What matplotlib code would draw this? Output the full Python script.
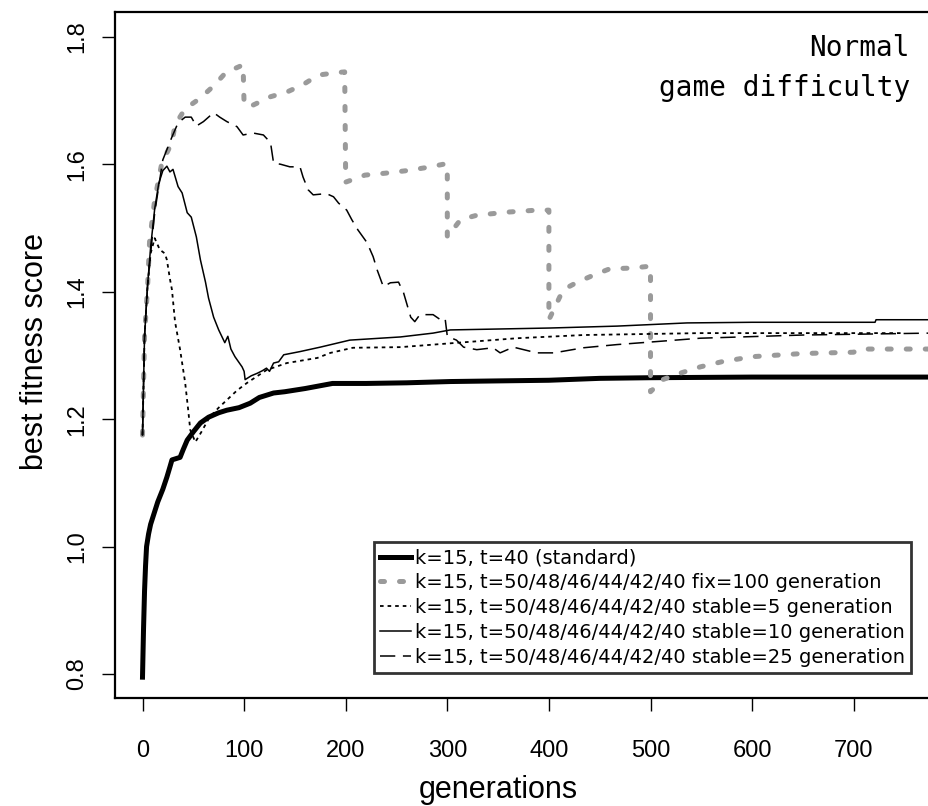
import matplotlib
matplotlib.use("Agg")
import matplotlib.pyplot as plt

# k=15, t=40 (standard)
gens_std = [0, 1, 2, 3, 4, 6, 8, 10, 12, 15, 17, 20, 24, 27, 29, 33, 37, 40, 44, 50,
            57, 65, 75, 83, 95, 106, 115, 129, 140, 160, 187, 220, 260, 303, 350,
            400, 450, 500, 600, 700, 775]
vals_std = [0.795, 0.87, 0.93, 0.97, 1.0, 1.02, 1.035, 1.045, 1.055, 1.07, 1.078, 1.09,
            1.109, 1.125, 1.136, 1.138, 1.14, 1.152, 1.167, 1.18, 1.194, 1.203, 1.21,
            1.214, 1.218, 1.225, 1.234, 1.241, 1.243, 1.248, 1.256, 1.256, 1.257,
            1.259, 1.26, 1.261, 1.264, 1.265, 1.266, 1.266, 1.266]

# fix=100 generation
gens_fix = [0, 2, 5, 7, 12, 19, 29, 32, 42, 57, 70, 82, 99, 100, 109, 126, 143, 158,
            173, 192, 199, 200, 219, 239, 260, 280, 296, 300, 300, 313, 329, 360, 388,
            400, 400, 406, 414, 428, 444, 460, 480, 500, 500, 512, 529, 549, 570, 600,
            650, 700, 705, 775]
vals_fix = [1.175, 1.33, 1.408, 1.48, 1.544, 1.602, 1.634, 1.662, 1.687, 1.704, 1.723,
            1.744, 1.756, 1.693, 1.693, 1.706, 1.714, 1.725, 1.74, 1.744, 1.745, 1.572,
            1.583, 1.586, 1.59, 1.595, 1.60, 1.60, 1.486, 1.513, 1.52, 1.525, 1.528,
            1.528, 1.356, 1.376, 1.403, 1.415, 1.426, 1.436, 1.437, 1.44, 1.243, 1.262,
            1.272, 1.282, 1.29, 1.298, 1.303, 1.305, 1.31, 1.31]

# stable=5 generation
gens_s5 = [0, 2, 5, 8, 12, 17, 22, 24, 27, 29, 32, 37, 42, 45, 47, 52, 58, 66, 75, 83,
           93, 103, 122, 142, 172, 185, 207, 254, 303, 369, 434, 549, 650, 750]
vals_s5 = [1.175, 1.33, 1.41, 1.46, 1.484, 1.466, 1.46, 1.45, 1.42, 1.403, 1.353, 1.309,
           1.257, 1.214, 1.183, 1.164, 1.18, 1.203, 1.218, 1.23, 1.245, 1.257, 1.277,
           1.288, 1.296, 1.304, 1.312, 1.313, 1.319, 1.327, 1.332, 1.335, 1.335, 1.335]

# stable=10 generation
gens_s10 = [0, 2, 5, 8, 12, 16, 20, 24, 27, 30, 35, 39, 44, 48, 53, 57, 62, 65, 70, 75,
            81, 84, 87, 91, 98, 100, 101, 107, 113, 118, 122, 125, 129, 134, 139, 155,
            175, 204, 254, 286, 303, 401, 467, 536, 600, 721, 722, 775]
vals_s10 = [1.175, 1.33, 1.41, 1.47, 1.53, 1.57, 1.59, 1.597, 1.588, 1.592, 1.565, 1.555,
            1.524, 1.517, 1.486, 1.45, 1.415, 1.39, 1.36, 1.34, 1.32, 1.33, 1.31, 1.298,
            1.282, 1.275, 1.262, 1.268, 1.272, 1.276, 1.28, 1.275, 1.288, 1.29, 1.301,
            1.306, 1.313, 1.324, 1.329, 1.335, 1.34, 1.343, 1.346, 1.351, 1.352, 1.352,
            1.356, 1.356]

# stable=25 generation
gens_s25 = [0, 2, 5, 8, 12, 20, 29, 35, 42, 48, 53, 60, 70, 76, 83, 93, 99, 109, 119,
            126, 129, 136, 145, 155, 158, 163, 168, 181, 188, 193, 201, 206, 212, 221,
            227, 231, 237, 244, 252, 257, 264, 268, 273, 286, 296, 298, 300, 309, 316,
            329, 345, 352, 365, 388, 405, 434, 467, 500, 549, 650, 775]
vals_s25 = [1.175, 1.33, 1.41, 1.46, 1.524, 1.607, 1.643, 1.665, 1.674, 1.674, 1.66,
            1.667, 1.681, 1.674, 1.667, 1.659, 1.646, 1.649, 1.646, 1.634, 1.602, 1.60,
            1.596, 1.596, 1.58, 1.56, 1.552, 1.554, 1.549, 1.539, 1.528, 1.513, 1.497,
            1.477, 1.455, 1.434, 1.408, 1.414, 1.415, 1.398, 1.36, 1.353, 1.364, 1.364,
            1.353, 1.356, 1.33, 1.324, 1.313, 1.309, 1.312, 1.304, 1.313, 1.304, 1.304,
            1.312, 1.317, 1.321, 1.327, 1.332, 1.335]

labels = ['k=15, t=40 (standard)',
          'k=15, t=50/48/46/44/42/40 fix=100 generation',
          'k=15, t=50/48/46/44/42/40 stable=5 generation',
          'k=15, t=50/48/46/44/42/40 stable=10 generation',
          'k=15, t=50/48/46/44/42/40 stable=25 generation']

x_ticks = [0, 100, 200, 300, 400, 500, 600, 700]
y_ticks = [0.8, 1.0, 1.2, 1.4, 1.6, 1.8]

narrow = ['Liberation Sans Narrow', 'Liberation Sans', 'DejaVu Sans']

fig = plt.figure(figsize=(9.29, 8.06), dpi=100)
# axes box runs past the right edge of the picture, like the reference
ax = fig.add_axes([115 / 929, 1 - 698 / 806, (955 - 115) / 929, (698 - 12) / 806])

ax.plot(gens_std, vals_std, color='black', lw=3.6, label=labels[0])
ax.plot(gens_fix, vals_fix, color='#9a9a9a', lw=3.6, linestyle=(0, (0.8, 3.0)),
        dash_capstyle='round', label=labels[1])
ax.plot(gens_s5, vals_s5, color='black', lw=1.3, linestyle=(0, (2.0, 2.2)), label=labels[2])
ax.plot(gens_s10, vals_s10, color='black', lw=1.1, label=labels[3])
ax.plot(gens_s25, vals_s25, color='black', lw=1.1, linestyle=(0, (10, 5)), label=labels[4])

ax.set_xlim(-27.07, 799.7)
ax.set_ylim(0.7623, 1.839)
ax.set_xticks(x_ticks)
ax.set_yticks(y_ticks)
ax.set_xticklabels([str(t) for t in x_ticks], family=narrow, fontsize=17)
ax.set_yticklabels(['%.1f' % t for t in y_ticks], family=narrow, fontsize=17,
                   rotation=90, va='center')
ax.tick_params(direction='out', length=9.5, width=1)
ax.tick_params(axis='x', pad=21)
ax.tick_params(axis='y', pad=10)
for s in ax.spines.values():
    s.set_linewidth(1.6)

fig.text(498 / 929, 1 - 790 / 806, 'generations', family=narrow, fontsize=22,
         ha='center', va='center')
fig.text(35 / 929, 1 - 352 / 806, 'best fitness score', family=narrow, fontsize=22,
         rotation=90, ha='center', va='center')

ax.text(910 / 929, 1 - 48 / 806, 'Normal', transform=fig.transFigure,
        family='DejaVu Sans Mono', fontsize=20, ha='right', va='center')
ax.text(910 / 929, 1 - 88 / 806, 'game difficulty', transform=fig.transFigure,
        family='DejaVu Sans Mono', fontsize=20, ha='right', va='center')

leg = ax.legend(loc='lower left', bbox_to_anchor=(374 / 929, 1 - 673 / 806),
                bbox_transform=fig.transFigure, prop={'family': 'DejaVu Sans', 'size': 14},
                frameon=True, fancybox=False, handlelength=1.6, handletextpad=0.2,
                labelspacing=0.3, borderpad=0.32, borderaxespad=0)
leg.get_frame().set_edgecolor('black')
leg.get_frame().set_linewidth(2)

fig.savefig('out.png', dpi=100)
